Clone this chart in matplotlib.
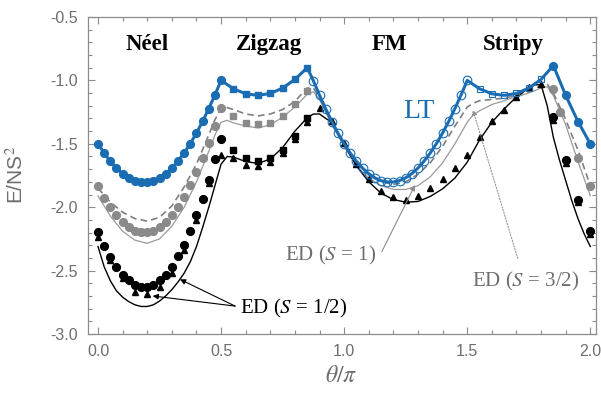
import matplotlib.pyplot as plt
from matplotlib.ticker import MultipleLocator

plt.rcParams['mathtext.fontset'] = 'stix'
plt.rcParams['axes.unicode_minus'] = False

# ---------------------------------------------------------------
# datos (theta/pi , E/NS^2)
# ---------------------------------------------------------------
# LT (azul): marcadores por fase, la linea pasa por todos ellos
lt_neel_x = [0.0, 0.025, 0.05, 0.075, 0.1, 0.125, 0.15, 0.175, 0.2, 0.225, 0.25,
             0.275, 0.3, 0.325, 0.35, 0.375, 0.4, 0.425, 0.45, 0.475, 0.5]
lt_neel_y = [-1.500, -1.574, -1.638, -1.692, -1.736, -1.769, -1.791, -1.801, -1.801, -1.790, -1.768,
             -1.735, -1.691, -1.636, -1.572, -1.498, -1.415, -1.323, -1.222, -1.115, -1.000]
lt_zz_x = [0.55, 0.6, 0.65, 0.7, 0.75, 0.8, 0.85]
lt_zz_y = [-1.066, -1.106, -1.118, -1.103, -1.061, -0.992, -0.900]
lt_fm_x = [0.875, 0.9, 0.925, 0.95, 0.975, 1.0, 1.025, 1.05, 1.075, 1.1, 1.125, 1.15, 1.175,
           1.2, 1.225, 1.25, 1.275, 1.3, 1.325, 1.35, 1.375, 1.4, 1.425, 1.45, 1.475, 1.5]
lt_fm_y = [-1.003, -1.118, -1.225, -1.325, -1.417, -1.500, -1.574, -1.638, -1.692, -1.736, -1.769,
           -1.791, -1.801, -1.801, -1.790, -1.768, -1.735, -1.691, -1.636, -1.572, -1.498, -1.415,
           -1.323, -1.222, -1.115, -1.000]
lt_st_x = [1.55, 1.6, 1.65, 1.7, 1.75, 1.8]
lt_st_y = [-1.066, -1.106, -1.118, -1.103, -1.061, -0.992]
lt_n2_x = [1.85, 1.9, 1.95, 2.0]
lt_n2_y = [-0.883, -1.118, -1.325, -1.500]

# marcadores grises
gr_neel_y = [-1.835, -1.925, -2.000, -2.065, -2.120, -2.160, -2.185, -2.197, -2.197, -2.184, -2.157,
             -2.117, -2.063, -1.996, -1.918, -1.828, -1.726, -1.614, -1.491, -1.360, -1.220]
gr_zz_y = [-1.281, -1.334, -1.347, -1.334, -1.281, -1.187, -1.082]
gr_n2_x = [1.85, 1.875, 1.95, 2.0]
gr_n2_y = [-1.070, -1.246, -1.613, -1.830]

# marcadores negros
bk_neel_y = [-2.199, -2.309, -2.393, -2.468, -2.533, -2.578, -2.612, -2.626, -2.626, -2.612, -2.578,
             -2.533, -2.468, -2.388, -2.296, -2.191, -2.059, -1.934, -1.782, -1.623, -1.465]
bk_zz_y = [-1.550, -1.610, -1.635, -1.610, -1.550, -1.440, -1.300]
bk_n2_y = [-1.286, -1.631, -1.940, -2.190]

tri_x = [0.0, 0.05, 0.1, 0.15, 0.2, 0.25, 0.3, 0.35, 0.4, 0.45, 0.5,
         0.55, 0.6, 0.65, 0.7, 0.75, 0.8, 0.85, 0.9,
         0.95, 1.0, 1.05, 1.1, 1.15, 1.2, 1.25, 1.3, 1.35, 1.4, 1.45, 1.5,
         1.55, 1.6, 1.65, 1.7, 1.75, 1.8,
         1.85, 1.9, 1.95, 2.0]
tri_y = [-2.235, -2.420, -2.560, -2.665, -2.685, -2.630, -2.520, -2.340, -2.100, -1.810, -1.590,
         -1.610, -1.665, -1.675, -1.640, -1.570, -1.465, -1.330, -1.220,
         -1.320, -1.490, -1.660, -1.775, -1.875, -1.920, -1.945, -1.915, -1.850, -1.775, -1.690, -1.585,
         -1.450, -1.320, -1.230, -1.130, -1.056, -1.030,
         -1.310, -1.650, -1.960, -2.210]

# curvas ED
ed_half_x = [0.0, 0.025, 0.05, 0.075, 0.1, 0.125, 0.15, 0.175, 0.2, 0.225, 0.25, 0.275, 0.3,
             0.325, 0.35, 0.375, 0.4, 0.425, 0.45, 0.475, 0.5, 0.525, 0.55, 0.6, 0.65, 0.7,
             0.75, 0.8, 0.85, 0.875, 0.9, 0.925, 0.95, 1.0, 1.05, 1.1, 1.15, 1.2, 1.25, 1.3,
             1.35, 1.4, 1.45, 1.5, 1.55, 1.6, 1.65, 1.7, 1.75, 1.775, 1.8, 1.825, 1.85, 1.875,
             1.9, 1.925, 1.95, 1.975, 2.0]
ed_half_y = [-2.31, -2.47, -2.58, -2.66, -2.71, -2.745, -2.77, -2.783, -2.783, -2.77, -2.74, -2.70, -2.65,
             -2.59, -2.52, -2.43, -2.31, -2.16, -2.00, -1.83, -1.66, -1.60, -1.605, -1.64, -1.655, -1.62,
             -1.53, -1.40, -1.295, -1.265, -1.265, -1.30, -1.33, -1.51, -1.675, -1.80, -1.89, -1.94, -1.96, -1.955,
             -1.915, -1.855, -1.77, -1.645, -1.47, -1.33, -1.225, -1.13, -1.06, -1.035, -1.035, -1.20, -1.45, -1.63,
             -1.79, -1.95, -2.09, -2.21, -2.31]

ed_x = [0.0, 0.05, 0.1, 0.15, 0.2, 0.25, 0.3, 0.35, 0.4, 0.45, 0.475, 0.5, 0.525, 0.55, 0.6,
        0.65, 0.7, 0.75, 0.8, 0.85, 0.875, 0.9, 0.95, 1.0, 1.05, 1.1, 1.15, 1.2, 1.25, 1.3,
        1.35, 1.4, 1.45, 1.5, 1.525, 1.55, 1.6, 1.65, 1.7, 1.75, 1.8, 1.825, 1.85, 1.9, 1.95, 2.0]
ed_one_y = [-1.91, -2.07, -2.19, -2.26, -2.285, -2.25, -2.15, -2.00, -1.80, -1.56, -1.43, -1.33, -1.315,
            -1.335, -1.36, -1.375, -1.35, -1.29, -1.21, -1.11, -1.09, -1.15, -1.35, -1.52, -1.67, -1.77,
            -1.83, -1.86, -1.86, -1.83, -1.76, -1.65, -1.50, -1.33, -1.27, -1.24, -1.19, -1.16, -1.13,
            -1.10, -1.06, -1.05, -1.12, -1.35, -1.64, -1.91]
ed_3h_y = [-1.85, -1.96, -2.04, -2.09, -2.11, -2.08, -1.99, -1.84, -1.66, -1.43, -1.31, -1.22, -1.215,
           -1.23, -1.265, -1.28, -1.265, -1.23, -1.165, -1.06, -1.06, -1.14, -1.34, -1.51, -1.645, -1.745,
           -1.80, -1.82, -1.80, -1.74, -1.65, -1.52, -1.36, -1.21, -1.18, -1.16, -1.15, -1.14, -1.12,
           -1.09, -1.04, -1.03, -1.10, -1.31, -1.55, -1.83]

AZUL = '#1a6db3'
GRIS = '#8a8a8a'
EJE = '#8c8c8c'

fig = plt.figure(figsize=(6.01, 3.96), dpi=100)
ax = fig.add_axes([0.1459, 0.1566, 0.8453, 0.8005])

# curvas ED
ax.plot(ed_x, ed_one_y, color='#9a9a9a', lw=0.9, zorder=2)
ax.plot(ed_x, ed_3h_y, color='#7f7f7f', lw=1.2, ls=(0, (4, 2.5)), zorder=2)
ax.plot(ed_half_x, ed_half_y, color='black', lw=1.0, zorder=2)

# marcadores negros y grises
ax.plot(tri_x, tri_y, '^', color='black', ms=4.5, ls='none', zorder=3)
ax.plot(lt_neel_x, bk_neel_y, 'o', color='black', ms=5.6, ls='none', zorder=4)
ax.plot(lt_zz_x, bk_zz_y, 's', color='black', ms=4.6, ls='none', zorder=4)
ax.plot(lt_n2_x, bk_n2_y, 'o', color='black', ms=5.6, ls='none', zorder=4)
ax.plot(lt_neel_x, gr_neel_y, 'o', color=GRIS, ms=5.6, ls='none', zorder=4)
ax.plot(lt_zz_x, gr_zz_y, 's', color=GRIS, ms=4.6, ls='none', zorder=4)
ax.plot(gr_n2_x, gr_n2_y, 'o', color=GRIS, ms=5.6, ls='none', zorder=4)

# LT
lt_x = lt_neel_x + lt_zz_x + lt_fm_x + lt_st_x + lt_n2_x
lt_y = lt_neel_y + lt_zz_y + lt_fm_y + lt_st_y + lt_n2_y
ax.plot(lt_x, lt_y, color=AZUL, lw=2.2, zorder=5)
ax.plot(lt_neel_x, lt_neel_y, 'o', color=AZUL, ms=5.6, ls='none', zorder=6)
ax.plot(lt_zz_x, lt_zz_y, 's', color=AZUL, ms=4.6, ls='none', zorder=6)
ax.plot(lt_fm_x, lt_fm_y, 'o', mfc='none', mec=AZUL, mew=0.8, ms=6.2, ls='none', zorder=6)
ax.plot(lt_st_x, lt_st_y, 's', mfc='none', mec=AZUL, mew=0.8, ms=5, ls='none', zorder=6)
ax.plot(lt_n2_x, lt_n2_y, 'o', color=AZUL, ms=5.6, ls='none', zorder=6)

# textos
fase = dict(family='Liberation Serif', weight='bold', fontsize=16.5, ha='center', va='baseline')
ax.text(0.20, -0.76, 'Néel', **fase)
ax.text(0.695, -0.76, 'Zigzag', **fase)
ax.text(1.182, -0.76, 'FM', **fase)
ax.text(1.688, -0.76, 'Stripy', **fase)
ax.text(1.304, -1.30, 'LT', family='Liberation Serif', fontsize=20, color=AZUL,
        ha='center', va='baseline')

ed = dict(family='Liberation Serif', fontsize=15, va='baseline')
ax.text(0.577, -2.84, 'ED ($S$ = 1/2)', color='black', ha='left', **ed)
ax.text(0.946, -2.424, 'ED ($S$ = 1)', color='#6e6e6e', ha='center', **ed)
ax.text(1.737, -2.625, 'ED ($S$ = 3/2)', color='#6e6e6e', ha='center', **ed)

flecha = dict(arrowstyle='-|>', color='black', lw=0.8, mutation_scale=8, shrinkA=0, shrinkB=0)
ax.annotate('', xy=(0.333, -2.569), xytext=(0.557, -2.78), arrowprops=flecha)
ax.annotate('', xy=(0.222, -2.700), xytext=(0.557, -2.78), arrowprops=flecha)
ax.annotate('', xy=(1.288, -1.825), xytext=(1.153, -2.351),
            arrowprops=dict(flecha, color='#8c8c8c'))
ax.annotate('', xy=(1.523, -1.233), xytext=(1.705, -2.403),
            arrowprops=dict(flecha, color='#8c8c8c', ls=(0, (1.5, 1.5)), lw=0.7))

# ejes
ax.set_xlim(-0.042, 2.022)
ax.set_ylim(-3.0, -0.5)
ax.xaxis.set_major_locator(MultipleLocator(0.5))
ax.xaxis.set_minor_locator(MultipleLocator(0.1))
ax.yaxis.set_major_locator(MultipleLocator(0.5))
ax.yaxis.set_minor_locator(MultipleLocator(0.1))
ax.tick_params(which='both', direction='in', top=True, right=True, color=EJE, width=0.8)
ax.tick_params(which='major', length=5)
ax.tick_params(which='minor', length=2.8)
ax.tick_params(axis='both', labelsize=11.5, labelcolor='#6e6e6e', pad=7)
for lab in ax.get_xticklabels() + ax.get_yticklabels():
    lab.set_family('Liberation Sans')
for s in ax.spines.values():
    s.set_color(EJE)
    s.set_linewidth(0.9)

ax.set_ylabel('E/NS$^2$', family='Liberation Sans', fontsize=15, color='#6e6e6e')
ax.yaxis.set_label_coords(-0.12, 0.5)
ax.set_xlabel(r'$\theta/\pi$', fontsize=17, color='#6e6e6e')
ax.xaxis.set_label_coords(0.5, -0.09)

plt.savefig('out.png', dpi=100)
